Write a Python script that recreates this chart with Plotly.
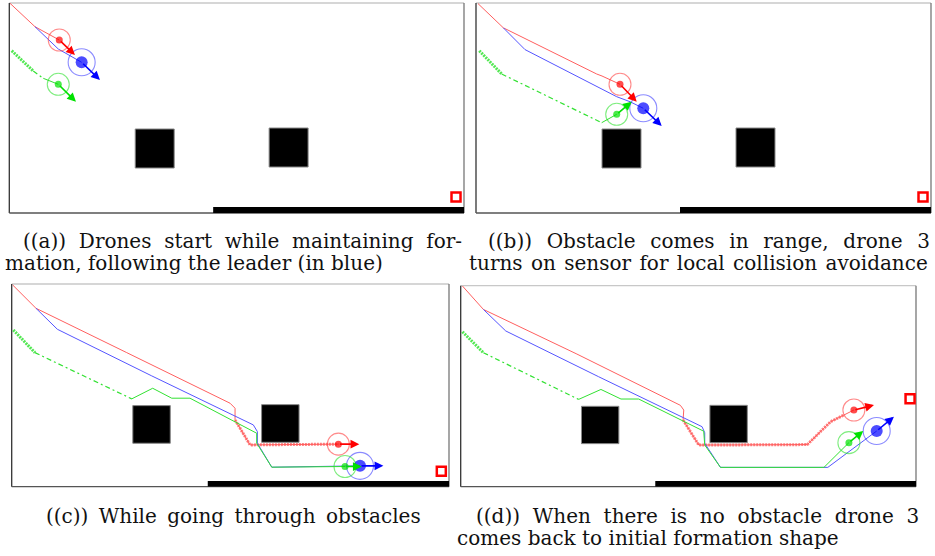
import plotly.graph_objects as go

W, H = 935, 556

# ---------------- world data (sim units, y grows downward) ----------------
OBST_X0 = [126, 260]
OBST_X1 = [165, 299]
OBST_Y0 = [126, 125]
OBST_Y1 = [165, 164]
WALL_X0 = [204, 204, 204, 203]
WALL_Y = [204, 210]
TARGET_X = [447, 447, 447, 468.8]
TARGET_Y = [194, 194, 194, 118]

# panel (a)
RED_A_X = [0.7, 25.7, 50]
RED_A_Y = [0.3, 23.7, 37]
BLUE_A_X = [25.7, 49, 72.4]
BLUE_A_Y = [23.7, 46, 59.3]
GREEN_A_X = [2.4, 24, 34, 49]
GREEN_A_Y = [47.7, 68, 75.3, 81.3]
DRONE_A_X = [50, 72.4, 49]
DRONE_A_Y = [37, 59.3, 81.3]
HEAD_A_X = [65.7, 90.7, 66.7]
HEAD_A_Y = [52, 77, 98.7]

# panel (b)
RED_B_X = [2.0, 27.3, 120.7, 126, 144]
RED_B_Y = [0.6, 24.8, 71, 73, 81.3]
BLUE_B_X = [27.3, 49, 140.7, 154, 167.3]
BLUE_B_Y = [24.8, 46.6, 93.7, 98.7, 105.3]
GREEN_B_X = [3.3, 25.7, 125.7, 140.7]
GREEN_B_Y = [47.7, 71, 119.7, 111.3]
DRONE_B_X = [144, 167.3, 140.7]
DRONE_B_Y = [81.3, 105.3, 111.3]
HEAD_B_X = [160.7, 185.7, 155.7]
HEAD_B_Y = [98.7, 123, 98.7]

# panel (c)
RED_C_X = [1, 25.3, 119.7, 227.2, 232.4, 232.4, 248, 339.9]
RED_C_Y = [1, 25.2, 71.1, 123.5, 128.7, 140.8, 166.7, 165.9]
BLUE_C_X = [25.3, 47.5, 145.7, 251.4, 255.6, 255.6, 270.6, 362.4]
BLUE_C_Y = [25.2, 46.9, 95.2, 146, 152.9, 164.9, 189.8, 188.4]
GREEN_C_X = [1.7, 24.2, 124.9, 146.7, 166.5, 185.5, 254.9, 254.9, 270.6, 346.8]
GREEN_C_Y = [47.6, 71.1, 119, 108, 118.3, 118.3, 154.6, 164.9, 189.8, 189.1]
DRONE_C_X = [339.9, 362.4, 346.8]
DRONE_C_Y = [165.9, 188.4, 189.1]
HEAD_C_X = [361.7, 386.7, 364.2]
HEAD_C_Y = [165.9, 188.4, 189.1]

# panel (d)
RED_D_X = [1.8, 23.7, 121.2, 229.2, 232.7, 232, 248.4, 361.6, 385.9, 399.8, 410.2]
RED_D_Y = [0.3, 24.8, 71.4, 125, 129.9, 140.3, 166.5, 166, 142.1, 135.1, 129.9]
BLUE_D_X = [23.7, 47, 143.9, 251.8, 254.6, 254.6, 271, 383, 434]
BLUE_D_Y = [24.8, 47.3, 95.1, 147.3, 153.6, 164.7, 189.8, 189.8, 151.8]
GREEN_D_X = [1.8, 23.7, 123, 146.3, 167.2, 185.7, 253.5, 254.6, 271, 379, 405]
GREEN_D_Y = [48.1, 70, 118.8, 108.4, 118.4, 118.4, 152, 166.5, 189.8, 189.8, 164]
DRONE_D_X = [410.2, 434, 405]
DRONE_D_Y = [129.9, 151.8, 164]
HEAD_D_X = [431.2, 452, 420]
HEAD_D_Y = [124.7, 136.9, 151.8]

NB = "\u00a0"
TH = "\u2009"
HA = "\u200a"
CAPTIONS = [
    ("((a))", "Drones", "start", "while", "maintaining", "for-"),
    ("mation,", "following", "the", "leader", "(in", "blue)"),
    ("((b))", "Obstacle", "comes", "in", "range,", "drone", "3"),
    ("turns", "on", "sensor", "for", "local", "collision", "avoidance"),
    ("((c))", "While", "going", "through", "obstacles"),
    ("((d))", "When", "there", "is", "no", "obstacle", "drone", "3"),
    ("comes", "back", "to", "initial", "formation", "shape"),
]
# extra inter-word glue to mimic the justified LaTeX lines
GLUE = [" " + NB, " ", " " + NB + HA, " " + HA, " " + TH, " " + NB, " "]

# ---------------- layout geometry (pixels) ----------------
PANEL_BOX = [  # x0, x1, y0(top), y1(bottom) in px
    (9.3, 464, 3, 213),
    (476, 931, 3, 213),
    (11.7, 449, 284, 486.7),
    (460.7, 916, 285.7, 486.7),
]
X_RANGES = [[0, 455], [0, 455], [0, 455], [0, 475]]
Y_RANGE = [210, 0]
RED_FUZZ_END = [0, 0, 8, 10]

PANELS = [
    (RED_A_X, RED_A_Y, BLUE_A_X, BLUE_A_Y, GREEN_A_X, GREEN_A_Y, DRONE_A_X, DRONE_A_Y, HEAD_A_X, HEAD_A_Y),
    (RED_B_X, RED_B_Y, BLUE_B_X, BLUE_B_Y, GREEN_B_X, GREEN_B_Y, DRONE_B_X, DRONE_B_Y, HEAD_B_X, HEAD_B_Y),
    (RED_C_X, RED_C_Y, BLUE_C_X, BLUE_C_Y, GREEN_C_X, GREEN_C_Y, DRONE_C_X, DRONE_C_Y, HEAD_C_X, HEAD_C_Y),
    (RED_D_X, RED_D_Y, BLUE_D_X, BLUE_D_Y, GREEN_D_X, GREEN_D_Y, DRONE_D_X, DRONE_D_Y, HEAD_D_X, HEAD_D_Y),
]

RED = "rgb(255,0,0)"
BLUE = "rgb(0,0,255)"
GREEN = "rgb(0,225,0)"
RED_L = "rgb(255,95,95)"
BLUE_L = "rgb(85,85,255)"
GREEN_L = "rgb(50,225,50)"

fig = go.Figure()
shapes = []
annotations = []

for i, (rx, ry, bx, by, gx, gy, dx, dy, hx, hy) in enumerate(PANELS):
    n = "" if i == 0 else str(i + 1)
    xa, ya = "x" + n, "y" + n
    x0, x1, t, b = PANEL_BOX[i]
    fig.layout["xaxis" + n] = dict(domain=[x0 / W, x1 / W], range=X_RANGES[i], visible=False,
                                   fixedrange=True, anchor=ya)
    fig.layout["yaxis" + n] = dict(domain=[1 - b / H, 1 - t / H], range=Y_RANGE, visible=False,
                                   fixedrange=True, anchor=xa)

    # obstacles
    for k in range(len(OBST_X0)):
        shapes.append(dict(type="rect", xref=xa, yref=ya, x0=OBST_X0[k], x1=OBST_X1[k],
                           y0=OBST_Y0[k], y1=OBST_Y1[k], fillcolor="black",
                           line=dict(color="#888", width=1), layer="below"))
    # bottom wall
    shapes.append(dict(type="rect", xref=xa, yref=ya, x0=WALL_X0[i], x1=X_RANGES[i][1],
                       y0=WALL_Y[0], y1=WALL_Y[1], fillcolor="black", line=dict(width=0), layer="below"))
    # panel border
    for (sx0, sy0, sx1, sy1, col) in [(0, 1, 1, 1, "#c8c8c8"), (0, 0, 0, 1, "#333"),
                                      (1, 0, 1, 1, "#777"), (0, 0, 1, 0, "#555")]:
        shapes.append(dict(type="line", xref=xa + " domain", yref=ya + " domain",
                           x0=sx0, y0=sy0, x1=sx1, y1=sy1, line=dict(color=col, width=1.3),
                           layer="below"))

    # trajectories
    fig.add_trace(go.Scatter(x=rx, y=ry, mode="lines", line=dict(color=RED_L, width=1),
                             xaxis=xa, yaxis=ya, hoverinfo="skip"))
    if RED_FUZZ_END[i]:
        fig.add_trace(go.Scatter(x=rx[5:RED_FUZZ_END[i]], y=ry[5:RED_FUZZ_END[i]], mode="lines",
                                 line=dict(color="rgba(255,90,90,0.75)", width=3, dash="2px,1px"),
                                 xaxis=xa, yaxis=ya, hoverinfo="skip"))
    fig.add_trace(go.Scatter(x=bx, y=by, mode="lines", line=dict(color=BLUE_L, width=1),
                             xaxis=xa, yaxis=ya, hoverinfo="skip"))
    fig.add_trace(go.Scatter(x=gx[:2], y=gy[:2], mode="lines",
                             line=dict(color="rgba(40,225,40,0.8)", width=3, dash="2px,1px"),
                             xaxis=xa, yaxis=ya, hoverinfo="skip"))
    fig.add_trace(go.Scatter(x=gx[1:3], y=gy[1:3], mode="lines",
                             line=dict(color=GREEN_L, width=1.2, dash="5px,3px,2px,3px"),
                             xaxis=xa, yaxis=ya, hoverinfo="skip"))
    fig.add_trace(go.Scatter(x=gx[2:], y=gy[2:], mode="lines", line=dict(color=GREEN_L, width=1),
                             xaxis=xa, yaxis=ya, hoverinfo="skip"))

    # target
    fig.add_trace(go.Scatter(x=[TARGET_X[i]], y=[TARGET_Y[i]], mode="markers",
                             marker=dict(symbol="square-open", size=9, color=RED,
                                         line=dict(width=2.5, color=RED)),
                             xaxis=xa, yaxis=ya, hoverinfo="skip"))

    # drones: range circles and bodies
    fig.add_trace(go.Scatter(x=dx, y=dy, mode="markers",
                             marker=dict(symbol="circle-open", size=[22, 27, 22],
                                         color=["rgba(255,60,60,0.85)", "rgba(60,60,255,0.85)",
                                                "rgba(40,225,40,0.85)"],
                                         line=dict(width=1.1)),
                             xaxis=xa, yaxis=ya, hoverinfo="skip"))
    fig.add_trace(go.Scatter(x=dx, y=dy, mode="markers",
                             marker=dict(symbol="circle", size=[7, 12, 7], color=[RED, BLUE, GREEN],
                                         line=dict(width=0)),
                             xaxis=xa, yaxis=ya, hoverinfo="skip"))
    # heading arrows
    for k, col in enumerate([RED, BLUE, GREEN]):
        annotations.append(dict(x=hx[k], y=hy[k], ax=dx[k], ay=dy[k], xref=xa, yref=ya,
                                axref=xa, ayref=ya, text="", showarrow=True, arrowhead=2,
                                arrowsize=1.1, arrowwidth=1.6, arrowcolor=col, standoff=0))

# captions: (text idx, x px, anchor, baseline px)
CAP_POS = [(0, 20.7, "left", 246.7), (1, 2.7, "left", 269.3),
           (2, 486, "left", 246.7), (3, 467, "left", 269.3),
           (4, 233.3, "center", 521.7),
           (5, 474, "left", 521.7), (6, 455, "left", 544.3)]
FS = 20
for idx, px, anc, base in CAP_POS:
    annotations.append(dict(text=GLUE[idx].join(CAPTIONS[idx]), x=px / W, y=1 - (base - 0.3 * FS) / H,
                            xref="paper", yref="paper", xanchor=anc, yanchor="middle",
                            showarrow=False, font=dict(family="DejaVu Serif", size=FS, color="#111")))

fig.update_layout(width=W, height=H, margin=dict(l=0, r=0, t=0, b=0),
                  paper_bgcolor="white", plot_bgcolor="white", showlegend=False,
                  hovermode=False, shapes=shapes, annotations=annotations)

fig.write_html("out.html", config={"displayModeBar": False, "staticPlot": True},
               post_script="document.body.style.margin='0';")
